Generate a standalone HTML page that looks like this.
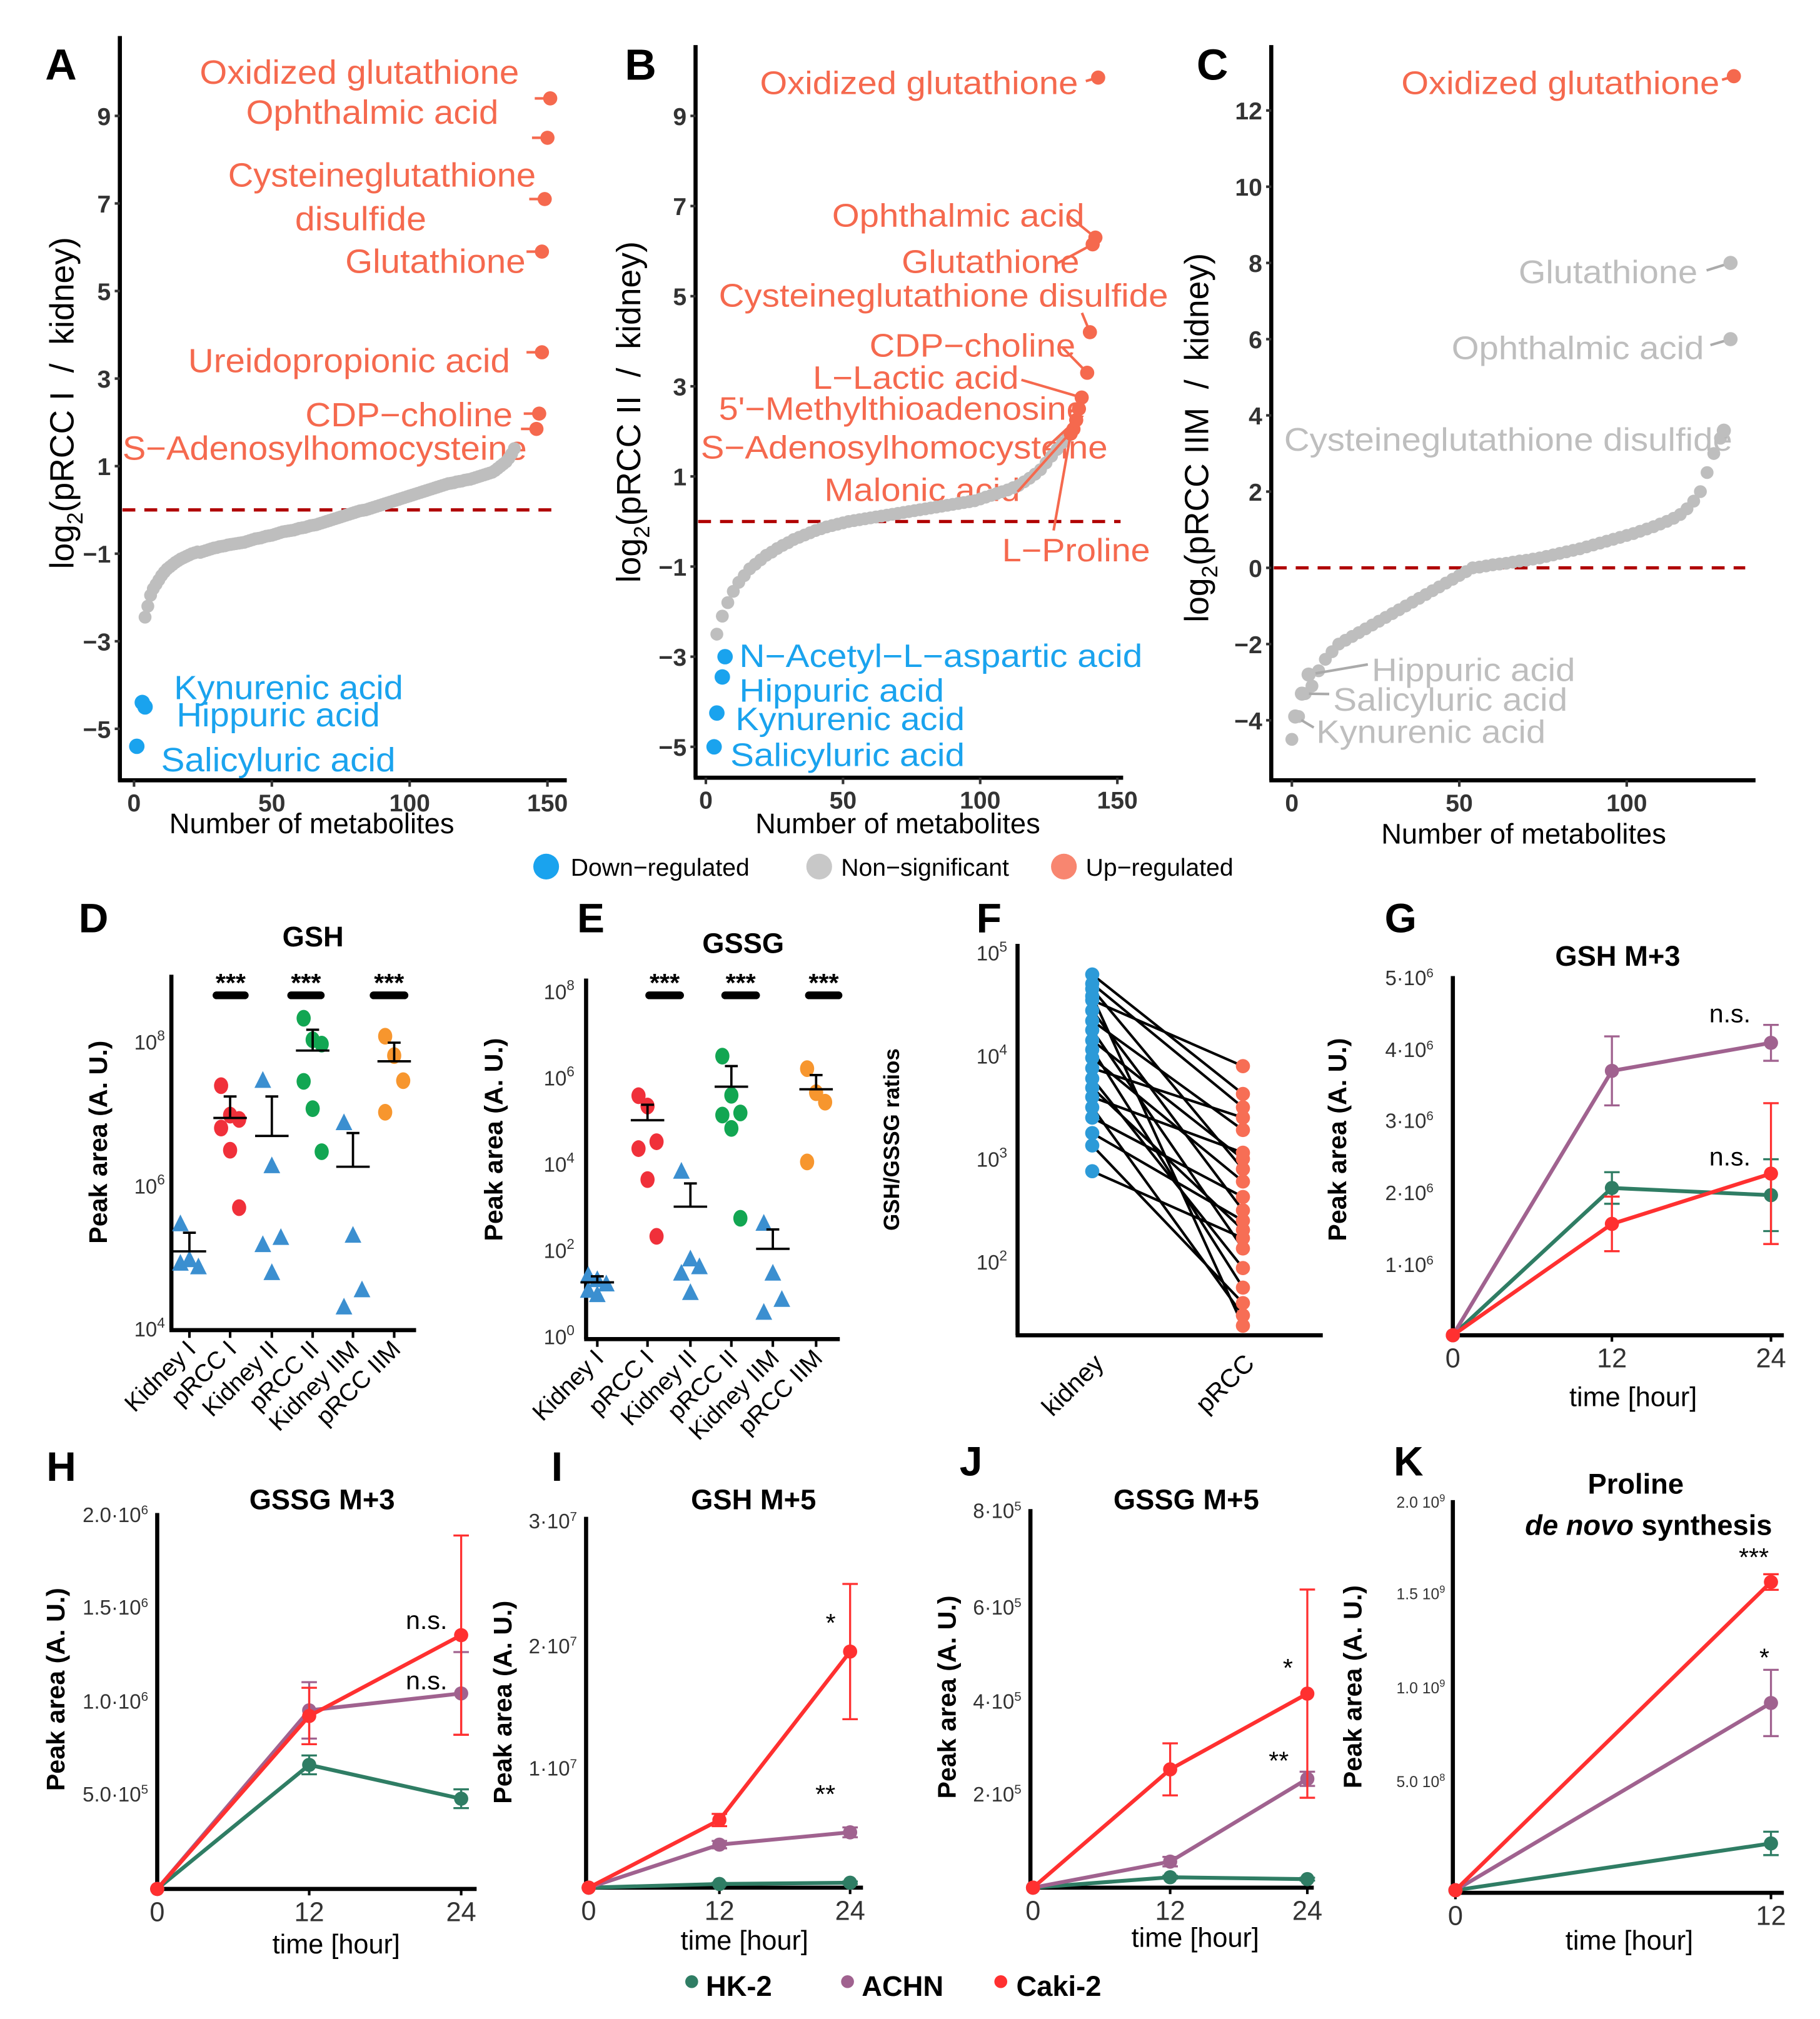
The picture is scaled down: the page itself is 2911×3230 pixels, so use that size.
<!DOCTYPE html>
<html><head><meta charset="utf-8">
<style>
html,body{margin:0;padding:0;background:#fff;}
svg{display:block;}
text{font-family:"Liberation Sans",Arial,sans-serif;}
.nar{font-family:"Liberation Sans Narrow","Liberation Sans",sans-serif;}
.b{font-weight:bold;}
.up{fill:#F5694E;}
.dn{fill:#1AA3EE;}
.gr{fill:#BEBEBE;}
.tk{fill:#333;font-size:16px;}
</style></head>
<body>
<svg id="fig" xmlns="http://www.w3.org/2000/svg" width="2911" height="3230" viewBox="0 0 1413 1568">
<rect x="0" y="0" width="1413" height="1568" fill="#fff"/>
<g id="static" fill="#000">
<text x="35" y="62" font-size="34" class="b">A</text>
<text x="485" y="62" font-size="34" class="b">B</text>
<text x="929" y="62" font-size="34" class="b">C</text>
<text x="61" y="724" font-size="32" class="b">D</text>
<text x="448" y="724" font-size="32" class="b">E</text>
<text x="758" y="724" font-size="32" class="b">F</text>
<text x="1075" y="724" font-size="32" class="b">G</text>
<text x="36" y="1150" font-size="32" class="b">H</text>
<text x="428" y="1150" font-size="32" class="b">I</text>
<text x="745" y="1146" font-size="32" class="b">J</text>
<text x="1082" y="1146" font-size="32" class="b">K</text>

<text transform="translate(57,313) rotate(-90)" text-anchor="middle" font-size="26">log<tspan font-size="17" dy="7">2</tspan><tspan dy="-7">(pRCC I &#160;/ &#160;kidney)</tspan></text>
<text x="242" y="647" text-anchor="middle" font-size="22" class="nar">Number of metabolites</text>
<g class="nar up" font-size="26">
<text x="155" y="65" textLength="248" lengthAdjust="spacingAndGlyphs">Oxidized glutathione</text>
<text x="191" y="96" textLength="196" lengthAdjust="spacingAndGlyphs">Ophthalmic acid</text>
<text x="177" y="145" textLength="239" lengthAdjust="spacingAndGlyphs">Cysteineglutathione</text>
<text x="229" y="179" textLength="102" lengthAdjust="spacingAndGlyphs">disulfide</text>
<text x="268" y="212" textLength="140" lengthAdjust="spacingAndGlyphs">Glutathione</text>
<text x="146" y="289" textLength="250" lengthAdjust="spacingAndGlyphs">Ureidopropionic acid</text>
<text x="237" y="331" textLength="161" lengthAdjust="spacingAndGlyphs">CDP−choline</text>
<text x="95" y="357" textLength="314" lengthAdjust="spacingAndGlyphs">S−Adenosylhomocysteine</text>
</g>
<g class="dn" font-size="26">
<text x="135" y="543" textLength="178" lengthAdjust="spacingAndGlyphs">Kynurenic acid</text>
<text x="137" y="564" textLength="158" lengthAdjust="spacingAndGlyphs">Hippuric acid</text>
<text x="125" y="599" textLength="182" lengthAdjust="spacingAndGlyphs">Salicyluric acid</text>
</g>

<text transform="translate(497,320) rotate(-90)" text-anchor="middle" font-size="26">log<tspan font-size="17" dy="7">2</tspan><tspan dy="-7">(pRCC II &#160;/ &#160;kidney)</tspan></text>
<text x="697" y="647" text-anchor="middle" font-size="22" class="nar">Number of metabolites</text>
<g class="up" font-size="25">
<text x="590" y="73" textLength="247" lengthAdjust="spacingAndGlyphs">Oxidized glutathione</text>
<text x="646" y="176" textLength="196" lengthAdjust="spacingAndGlyphs">Ophthalmic acid</text>
<text x="700" y="212" textLength="138" lengthAdjust="spacingAndGlyphs">Glutathione</text>
<text x="558" y="238" textLength="349" lengthAdjust="spacingAndGlyphs">Cysteineglutathione disulfide</text>
<text x="675" y="277" textLength="160" lengthAdjust="spacingAndGlyphs">CDP−choline</text>
<text x="631" y="302" textLength="160" lengthAdjust="spacingAndGlyphs">L−Lactic acid</text>
<text x="558" y="326" textLength="285" lengthAdjust="spacingAndGlyphs">5'−Methylthioadenosine</text>
<text x="544" y="356" textLength="316" lengthAdjust="spacingAndGlyphs">S−Adenosylhomocysteine</text>
<text x="640" y="389" textLength="152" lengthAdjust="spacingAndGlyphs">Malonic acid</text>
<text x="778" y="436" textLength="115" lengthAdjust="spacingAndGlyphs">L−Proline</text>
</g>
<g class="dn" font-size="25">
<text x="574" y="518" textLength="313" lengthAdjust="spacingAndGlyphs">N−Acetyl−L−aspartic acid</text>
<text x="574" y="545" textLength="159" lengthAdjust="spacingAndGlyphs">Hippuric acid</text>
<text x="571" y="567" textLength="178" lengthAdjust="spacingAndGlyphs">Kynurenic acid</text>
<text x="567" y="595" textLength="182" lengthAdjust="spacingAndGlyphs">Salicyluric acid</text>
</g>

<text transform="translate(938,340) rotate(-90)" text-anchor="middle" font-size="26">log<tspan font-size="17" dy="7">2</tspan><tspan dy="-7">(pRCC IIM &#160;/ &#160;kidney)</tspan></text>
<text x="1183" y="655" text-anchor="middle" font-size="22" class="nar">Number of metabolites</text>
<text x="1088" y="73" font-size="25" class="up" textLength="247" lengthAdjust="spacingAndGlyphs">Oxidized glutathione</text>
<g class="gr" font-size="25">
<text x="1179" y="220" textLength="139" lengthAdjust="spacingAndGlyphs">Glutathione</text>
<text x="1127" y="279" textLength="196" lengthAdjust="spacingAndGlyphs">Ophthalmic acid</text>
<text x="997" y="350" textLength="348" lengthAdjust="spacingAndGlyphs">Cysteineglutathione disulfide</text>
<text x="1065" y="529" class="nar" textLength="158" lengthAdjust="spacingAndGlyphs">Hippuric acid</text>
<text x="1035" y="552" class="nar" textLength="182" lengthAdjust="spacingAndGlyphs">Salicyluric acid</text>
<text x="1022" y="577" class="nar" textLength="178" lengthAdjust="spacingAndGlyphs">Kynurenic acid</text>
</g>

<g font-size="19">
<circle cx="424" cy="673" r="10" fill="#1AA3EE"/>
<text x="443" y="680">Down−regulated</text>
<circle cx="636" cy="673" r="10" fill="#C8C8C8"/>
<text x="653" y="680">Non−significant</text>
<circle cx="826" cy="673" r="10" fill="#F88670"/>
<text x="843" y="680">Up−regulated</text>
</g>

<text x="243" y="735" text-anchor="middle" font-size="22" class="b">GSH</text>
<text transform="translate(83,887) rotate(-90)" text-anchor="middle" font-size="20" class="b">Peak area (A. U.)</text>
<g class="tk" text-anchor="end">
<text x="128" y="815">10<tspan font-size="11" dy="-7">8</tspan></text>
<text x="128" y="927">10<tspan font-size="11" dy="-7">6</tspan></text>
<text x="128" y="1038">10<tspan font-size="11" dy="-7">4</tspan></text>
</g>
<text x="577" y="740" text-anchor="middle" font-size="22" class="b">GSSG</text>
<text transform="translate(390,885) rotate(-90)" text-anchor="middle" font-size="20" class="b">Peak area (A. U.)</text>
<g class="tk" text-anchor="end">
<text x="446" y="776">10<tspan font-size="11" dy="-7">8</tspan></text>
<text x="446" y="843">10<tspan font-size="11" dy="-7">6</tspan></text>
<text x="446" y="910">10<tspan font-size="11" dy="-7">4</tspan></text>
<text x="446" y="977">10<tspan font-size="11" dy="-7">2</tspan></text>
<text x="446" y="1044">10<tspan font-size="11" dy="-7">0</tspan></text>
</g>
<text transform="translate(698,885) rotate(-90)" text-anchor="middle" font-size="17" class="b">GSH/GSSG ratios</text>
<g class="tk" text-anchor="end">
<text x="782" y="746">10<tspan font-size="11" dy="-7">5</tspan></text>
<text x="782" y="826">10<tspan font-size="11" dy="-7">4</tspan></text>
<text x="782" y="906">10<tspan font-size="11" dy="-7">3</tspan></text>
<text x="782" y="986">10<tspan font-size="11" dy="-7">2</tspan></text>
</g>
<text transform="translate(858,1060) rotate(-45)" text-anchor="end" font-size="20">kidney</text>
<text transform="translate(975,1060) rotate(-45)" text-anchor="end" font-size="20">pRCC</text>

<text x="1256" y="750" text-anchor="middle" font-size="22" class="b">GSH M+3</text>
<text x="250" y="1172" text-anchor="middle" font-size="22" class="b">GSSG M+3</text>
<text x="585" y="1172" text-anchor="middle" font-size="22" class="b">GSH M+5</text>
<text x="921" y="1172" text-anchor="middle" font-size="22" class="b">GSSG M+5</text>
<text x="1270" y="1160" text-anchor="middle" font-size="22" class="b">Proline</text>
<text x="1280" y="1192" text-anchor="middle" font-size="22" class="b"><tspan font-style="italic">de novo</tspan> synthesis</text>

<g font-size="20" class="b" text-anchor="middle">
<text transform="translate(1045,885) rotate(-90)">Peak area (A. U.)</text>
<text transform="translate(50,1312) rotate(-90)">Peak area (A. U.)</text>
<text transform="translate(397,1322) rotate(-90)">Peak area (A. U.)</text>
<text transform="translate(742,1318) rotate(-90)">Peak area (A. U.)</text>
<text transform="translate(1057,1310) rotate(-90)">Peak area (A. U.)</text>
</g>
<g font-size="21" text-anchor="middle">
<text x="1268" y="1092">time [hour]</text>
<text x="261" y="1517">time [hour]</text>
<text x="578" y="1514">time [hour]</text>
<text x="928" y="1512">time [hour]</text>
<text x="1265" y="1514">time [hour]</text>
</g>
<g class="tk" font-size="15" text-anchor="end">
<text x="1113" y="765">5·10<tspan font-size="10" dy="-6">6</tspan></text>
<text x="1113" y="821">4·10<tspan font-size="10" dy="-6">6</tspan></text>
<text x="1113" y="876">3·10<tspan font-size="10" dy="-6">6</tspan></text>
<text x="1113" y="932">2·10<tspan font-size="10" dy="-6">6</tspan></text>
<text x="1113" y="988">1·10<tspan font-size="10" dy="-6">6</tspan></text>
<text x="115" y="1182">2.0·10<tspan font-size="10" dy="-6">6</tspan></text>
<text x="115" y="1254">1.5·10<tspan font-size="10" dy="-6">6</tspan></text>
<text x="115" y="1327">1.0·10<tspan font-size="10" dy="-6">6</tspan></text>
<text x="115" y="1399">5.0·10<tspan font-size="10" dy="-6">5</tspan></text>
<text x="448" y="1187">3·10<tspan font-size="10" dy="-6">7</tspan></text>
<text x="448" y="1284">2·10<tspan font-size="10" dy="-6">7</tspan></text>
<text x="448" y="1379">1·10<tspan font-size="10" dy="-6">7</tspan></text>
<text x="793" y="1179">8·10<tspan font-size="10" dy="-6">5</tspan></text>
<text x="793" y="1254">6·10<tspan font-size="10" dy="-6">5</tspan></text>
<text x="793" y="1327">4·10<tspan font-size="10" dy="-6">5</tspan></text>
<text x="793" y="1399">2·10<tspan font-size="10" dy="-6">5</tspan></text>
<text x="1122" y="1171" font-size="12">2.0 10<tspan font-size="8" dy="-5">9</tspan></text>
<text x="1122" y="1242" font-size="12">1.5 10<tspan font-size="8" dy="-5">9</tspan></text>
<text x="1122" y="1315" font-size="12">1.0 10<tspan font-size="8" dy="-5">9</tspan></text>
<text x="1122" y="1388" font-size="12">5.0 10<tspan font-size="8" dy="-5">8</tspan></text>
</g>
<g font-size="20">
<text x="1327" y="794">n.s.</text>
<text x="1327" y="905">n.s.</text>
<text x="315" y="1265">n.s.</text>
<text x="315" y="1312">n.s.</text>
<text x="641" y="1267">*</text>
<text x="633" y="1400">**</text>
<text x="996" y="1302">*</text>
<text x="985" y="1374">**</text>
<text x="1350" y="1216">***</text>
<text x="1366" y="1294">*</text>
</g>
<g class="b" font-size="22">
<circle cx="537" cy="1539" r="5" fill="#2F7D64"/>
<text x="548" y="1550">HK-2</text>
<circle cx="658" cy="1539" r="5" fill="#A0628F"/>
<text x="669" y="1550">ACHN</text>
<circle cx="777" cy="1539" r="5" fill="#FF3030"/>
<text x="789" y="1550">Caki-2</text>
</g>
</g>
<g id="marks"></g>
</svg>
<script>
const aGreyStart = 4;
const aGrey = [-2.45,-2.2,-1.95,-1.8,-1.7,-1.6,-1.5,-1.42,-1.35,-1.3,
-1.25,-1.2,-1.16,-1.12,-1.09,-1.06,-1.03,-1.0,-0.98,-0.96,
-0.97,-0.95,-0.93,-0.91,-0.89,-0.87,-0.86,-0.84,-0.83,-0.82,
-0.8,-0.79,-0.78,-0.77,-0.76,-0.75,-0.74,-0.72,-0.7,-0.68,
-0.66,-0.65,-0.64,-0.62,-0.6,-0.59,-0.58,-0.56,-0.54,-0.52,
-0.5,-0.49,-0.48,-0.47,-0.46,-0.44,-0.42,-0.41,-0.4,-0.38,
-0.36,-0.35,-0.34,-0.32,-0.3,-0.28,-0.26,-0.24,-0.22,-0.2,
-0.18,-0.16,-0.14,-0.12,-0.1,-0.08,-0.06,-0.04,-0.02,-0.01,
0.0,0.02,0.04,0.06,0.08,0.1,0.12,0.14,0.16,0.18,
0.2,0.22,0.24,0.26,0.28,0.3,0.32,0.34,0.36,0.38,
0.4,0.42,0.44,0.46,0.48,0.5,0.52,0.54,0.56,0.58,
0.6,0.61,0.62,0.64,0.65,0.66,0.68,0.69,0.7,0.72,
0.74,0.76,0.78,0.8,0.82,0.84,0.86,0.9,0.95,1.0,
1.05,1.1,1.18,1.28,1.4];
const aUpIdx = [151,150,149,148,148,147,146];
const aUpVal = [9.4,8.5,7.1,5.9,3.6,2.2,1.85];
const aDownIdx = [3,4,1];
const aDownVal = [-4.4,-4.5,-5.4];
const bGreyStart = 4;
const bGrey = [-2.5,-2.1,-1.8,-1.55,-1.35,-1.2,-1.05,-0.95,-0.85,-0.75,
-0.68,-0.6,-0.53,-0.47,-0.4,-0.35,-0.3,-0.25,-0.2,-0.16,
-0.12,-0.09,-0.06,-0.03,0.0,0.02,0.04,0.06,0.08,0.1,
0.12,0.14,0.16,0.18,0.2,0.22,0.24,0.26,0.28,0.3,
0.32,0.34,0.36,0.38,0.4,0.42,0.44,0.46,0.5,0.54,
0.58,0.62,0.66,0.7,0.75,0.8,0.88,0.96,1.05,1.15,
1.3,1.45,1.6,1.75,1.9];
const bUpIdx = [143,142,141,140,139,137,136,135,134,133];
const bUpVal = [9.85,6.3,6.15,4.2,3.3,2.75,2.5,2.25,2.05,1.95];
const bDownIdx = [7,6,4,3];
const bDownVal = [-3.0,-3.45,-4.25,-5.0];
const cGreyStart = 0;
const cGrey = [-4.5,-3.9,-3.3,-3.1,-2.7,-2.4,-2.2,-2.0,-1.9,-1.8,
-1.7,-1.6,-1.5,-1.4,-1.3,-1.2,-1.1,-1.0,-0.9,-0.8,
-0.7,-0.6,-0.5,-0.4,-0.3,-0.2,-0.1,0.0,0.02,0.05,
0.08,0.1,0.12,0.15,0.18,0.2,0.23,0.26,0.3,0.34,
0.38,0.42,0.46,0.5,0.55,0.6,0.65,0.7,0.75,0.8,
0.85,0.9,0.96,1.02,1.08,1.15,1.22,1.3,1.4,1.55,
1.75,2.0,2.5,3.0,3.4];
const cUpIdx = [132];
const cUpVal = [12.9];
const cNamedIdx = [131,131,129,5,3,1];
const cNamedVal = [8.0,6.0,3.6,-2.8,-3.3,-3.9];
const dGroups = ['Kidney I','pRCC I','Kidney II','pRCC II','Kidney IIM','pRCC IIM'];
const dValues = [[5.45,4.95,4.85,4.9,4.95],[7.39,6.98,6.92,6.8,6.49,5.69],[7.45,6.26,5.26,5.16,4.77],[8.33,8.03,7.97,7.45,7.07,6.47],[6.86,5.29,4.53,4.29],[8.08,7.81,7.46,7.02]];
const dMean = [5.08,6.94,6.69,7.88,6.26,7.73];
const dErrTop = [5.34,7.24,7.24,8.17,6.73,7.99];
const eGroups = ['Kidney I','pRCC I','Kidney II','pRCC II','Kidney IIM','pRCC IIM'];
const eValues = [[1.4,1.3,1.2,1.05,0.95],[5.6,5.36,4.53,4.37,3.65,2.33],[3.82,1.78,1.6,1.45,1.0],[6.52,5.61,5.2,5.15,4.84,2.75],[2.61,1.45,0.84,0.54],[6.23,5.67,5.45,4.06]];
const eMean = [1.26,5.03,3.02,5.81,2.04,5.75];
const eErrTop = [1.4,5.39,3.56,6.29,2.49,6.08];
const fKidney = [4.79,4.65,4.54,4.44,4.34,4.25,4.15,4.06,3.98,3.88,3.78,3.69,3.6,3.5,3.4,3.25,3.13,2.88,4.7,4.58];
const fPRCC = [3.63,2.9,3.9,2.5,3.28,2.13,3.0,1.75,2.78,3.4,1.94,2.31,3.06,1.48,2.63,2.4,1.6,2.23,3.5,1.38];
const timeGHIJ = [0,12,24];
const timeK = [0,12];
const gHK2 = [0,2.05,1.95], gHK2Err = [0,0.22,0.5];
const gACHN = [0,3.68,4.07], gACHNErr = [0,0.48,0.25];
const gCaki = [0,1.55,2.25], gCakiErr = [0,0.38,0.98];
const hHK2 = [0,0.66,0.48], hHK2Err = [0,0.05,0.05];
const hACHN = [0,0.95,1.04], hACHNErr = [0,0.15,0.22];
const hCaki = [0,0.92,1.35], hCakiErr = [0,0.15,0.53];
const iHK2 = [0,0.03,0.04], iHK2Err = [0,0.01,0.01];
const iACHN = [0,0.35,0.45], iACHNErr = [0,0.03,0.04];
const iCaki = [0,0.55,1.92], iCakiErr = [0,0.05,0.55];
const jHK2 = [0,0.22,0.18], jHK2Err = [0,0.03,0.03];
const jACHN = [0,0.55,2.3], jACHNErr = [0,0.1,0.15];
const jCaki = [0,2.5,4.1], jCakiErr = [0,0.55,2.2];
const kHK2 = [0,0.24], kHK2Err = [0,0.06];
const kACHN = [0,0.96], kACHNErr = [0,0.17];
const kCaki = [0,1.58], kCakiErr = [0,0.04];
const xTicksA = [0,50,100,150], yTicksA = [9,7,5,3,1,-1,-3,-5];
const xTicksB = [0,50,100,150], yTicksB = [9,7,5,3,1,-1,-3,-5];
const xTicksC = [0,50,100], yTicksC = [12,10,8,6,4,2,0,-2,-4];

const NS = 'http://www.w3.org/2000/svg';
const root = document.getElementById('marks');
function el(tag, attrs, parent){ const e=document.createElementNS(NS,tag); for(const k in attrs) e.setAttribute(k,attrs[k]); (parent||root).appendChild(e); return e; }
const GREY='#BEBEBE', UP='#F5694E', DOWN='#1AA3EE', HK='#2F7D64', AC='#A0628F', CK='#FF3030';

function axisLines(x0,yTop,yBot,xRight,name){
  const a=el('line',{x1:x0,y1:yTop,x2:x0,y2:yBot,stroke:'#000','stroke-width':3.2});
  
  
  const b=el('line',{x1:x0-1.5,y1:yBot,x2:xRight,y2:yBot,stroke:'#000','stroke-width':3.2});
  
  
}
function tickText(x,y,s,anchor,size,bold){
  const t=el('text',{x:x,y:y,'text-anchor':anchor,'font-size':size,fill:'#333','font-weight':bold?'bold':'normal'});
  
  
  t.textContent=s;
}
function volcano(name, grey, gStart, step, xs, ys, axX, yTop, yBot, xRight, xTicks, yTicks, dashY, dashX2){
  axisLines(axX,yTop,yBot,xRight,name);
  xTicks.forEach(v=>{ const l=el('line',{x1:xs(v),y1:yBot,x2:xs(v),y2:yBot+5,stroke:'#333','stroke-width':2});   tickText(xs(v),yBot+24,String(v),'middle',19,true); });
  yTicks.forEach(v=>{ const l=el('line',{x1:axX-4,y1:ys(v),x2:axX,y2:ys(v),stroke:'#333','stroke-width':2});   tickText(axX-7,ys(v)+7,String(v).replace('-','−'),'end',19,true); });
  const d=el('line',{x1:axX+2,y1:ys(0),x2:dashX2,y2:ys(0),stroke:'#B00000','stroke-width':2.5,'stroke-dasharray':'10,7'});
  
  
  grey.forEach((v,i)=>{ const c=el('circle',{cx:xs(gStart+i*step),cy:ys(v),r:5,fill:GREY});   });
}
function pt(x,y,color,name,r){ const c=el('circle',{cx:x,cy:y,r:r||5.5,fill:color});   return c; }
function leader(x1,y1,x2,y2,color){ const l=el('line',{x1:x1,y1:y1,x2:x2,y2:y2,stroke:color,'stroke-width':2});   }

const xA=v=>104+v*2.14, yA=v=>396-v*34;
volcano('panel-a', aGrey, aGreyStart, 1, xA, yA, 93, 28, 606, 440, xTicksA, yTicksA, yA(0), 435);
aUpIdx.forEach((v,i)=>{ leader(xA(v)-12,yA(aUpVal[i]),xA(v),yA(aUpVal[i]),UP); pt(xA(v),yA(aUpVal[i]),UP,'panel-a-up-point'); });
aDownIdx.forEach((v,i)=>{ pt(xA(v),yA(aDownVal[i]),DOWN,'panel-a-down-point',6); });
const xB=v=>548+v*2.13, yB=v=>405-v*35;
volcano('panel-b', bGrey, bGreyStart, 2, xB, yB, 540, 35, 604, 872, xTicksB, yTicksB, yB(0), 870);
const bLead=[[843,63],[830,168],[820,205],[840,243],[825,270],[793,295],[830,320],[810,350],[790,382],[818,412]];
bUpIdx.forEach((v,i)=>{ leader(bLead[i][0],bLead[i][1],xB(v),yB(bUpVal[i]),UP); pt(xB(v),yB(bUpVal[i]),UP,'panel-b-up-point'); });
bDownIdx.forEach((v,i)=>{ pt(xB(v),yB(bDownVal[i]),DOWN,'panel-b-down-point',6); });
const xC=v=>1003+v*2.6, yC=v=>441-v*29.6;
volcano('panel-c', cGrey, cGreyStart, 2, xC, yC, 987, 35, 606, 1363, xTicksC, yTicksC, yC(0), 1355);
const cLead=[[1325,210],[1328,268],[1340,340],[1062,516],[1032,539],[1020,565]];
cNamedIdx.forEach((v,i)=>{ leader(cLead[i][0],cLead[i][1],xC(v),yC(cNamedVal[i]),'#AAAAAA'); pt(xC(v),yC(cNamedVal[i]),GREY,'panel-c-named-point'); });
leader(1337,62,xC(cUpIdx[0]),yC(cUpVal[0]),UP);
pt(xC(cUpIdx[0]),yC(cUpVal[0]),UP,'panel-c-up-point');

const groupColors=['#3B8FD0','#F0303A','#3B8FD0','#12A652','#3B8FD0','#F7962E'];
function scatterPanel(name, groups, vals, means, errs, cx, ys, axX, yTop, yBot, xRight, sigY, sigRanges){
  axisLines(axX,yTop,yBot,xRight,name);
  groups.forEach((g,gi)=>{
    const tl=el('line',{x1:cx[gi],y1:yBot,x2:cx[gi],y2:yBot+6,stroke:'#000','stroke-width':2});  
    const t=el('text',{transform:'translate('+(cx[gi]+6)+','+(yBot+16)+') rotate(-45)','text-anchor':'end','font-size':19});
    
    
    t.textContent=g;
    vals[gi].forEach((v,i)=>{
      const off=((i%3)-1)*7;
      const x=cx[gi]+off, y=ys(v);
      if(gi%2===0){ const p=el('polygon',{points:(x)+','+(y-8)+' '+(x-6.5)+','+(y+5)+' '+(x+6.5)+','+(y+5),fill:groupColors[gi]});   }
      else { const c=el('ellipse',{cx:x,cy:y,rx:5.5,ry:6.5,fill:groupColors[gi]});   }
    });
    const m=el('path',{d:'M'+(cx[gi]-13)+','+ys(means[gi])+'H'+(cx[gi]+13)+'M'+cx[gi]+','+ys(means[gi])+'V'+ys(errs[gi])+'M'+(cx[gi]-5)+','+ys(errs[gi])+'H'+(cx[gi]+5),stroke:'#000','stroke-width':1.8,fill:'none'});
    
    
  });
  sigRanges.forEach(r=>{
    const b=el('line',{x1:r[0],y1:sigY,x2:r[1],y2:sigY,stroke:'#000','stroke-width':6,'stroke-linecap':'round'});
    
    
    const s=el('text',{x:(r[0]+r[1])/2,y:sigY-3,'text-anchor':'middle','font-size':20,'font-weight':'bold'});
    
    
    s.textContent='***';
  });
}
const yD=v=>1032-(v-4)*55.7;
scatterPanel('panel-d', dGroups, dValues, dMean, dErrTop, [147,178.6,211,242.7,274,306], yD, 133, 757, 1033, 323, 773, [[168,190],[226,249],[290,314]]);
const yE=v=>1038-v*33.4;
scatterPanel('panel-e', eGroups, eValues, eMean, eErrTop, [463.7,502.7,536,567.8,600,633.6], yE, 455, 760, 1040, 652, 773, [[504,528],[563,587],[628,651]]);

const yF=v=>740+(5-v)*80, xFk=848, xFp=965;
axisLines(790,733,1037,1027,'panel-f');
fKidney.forEach((v,i)=>{ leader(xFk,yF(v),xFp,yF(fPRCC[i]),'#000'); });
fKidney.forEach((v,i)=>{ pt(xFk,yF(v),'#2C9AD8','panel-f-kidney-point',5.5); });
fPRCC.forEach((v,i)=>{ pt(xFp,yF(v),'#F76E55','panel-f-prcc-point',5.5); });

function timePanel(name, times, xs, ys, axX, yTop, yBot, xRight, series){
  axisLines(axX,yTop,yBot,xRight,name);
  times.forEach(t=>{ const l=el('line',{x1:xs(t),y1:yBot,x2:xs(t),y2:yBot+5,stroke:'#000','stroke-width':2});   tickText(xs(t),yBot+25,String(t),'middle',21,false); });
  series.forEach(s=>{
    const d=s.v.map((v,i)=>(i?'L':'M')+xs(times[i])+','+ys(v)).join('');
    const p=el('path',{d:d,stroke:s.c,'stroke-width':3,fill:'none'});
    
    
    s.v.forEach((v,i)=>{
      if(s.e[i]>0){ const x=xs(times[i]); const e=el('path',{d:'M'+x+','+ys(v-s.e[i])+'V'+ys(v+s.e[i])+'M'+(x-6)+','+ys(v-s.e[i])+'H'+(x+6)+'M'+(x-6)+','+ys(v+s.e[i])+'H'+(x+6),stroke:s.c,'stroke-width':1.6,fill:'none'});   }
      pt(xs(times[i]),ys(v),s.c,name+'-point-'+s.n,5.5);
    });
  });
}
timePanel('panel-g', timeGHIJ, t=>1128+t*247/24, v=>1037-v*55.8, 1128, 758, 1037, 1385,
  [{n:'hk2',v:gHK2,e:gHK2Err,c:HK},{n:'achn',v:gACHN,e:gACHNErr,c:AC},{n:'caki2',v:gCaki,e:gCakiErr,c:CK}]);
timePanel('panel-h', timeGHIJ, t=>122+t*236/24, v=>1467-v*146, 122, 1175, 1467, 370,
  [{n:'hk2',v:hHK2,e:hHK2Err,c:HK},{n:'achn',v:hACHN,e:hACHNErr,c:AC},{n:'caki2',v:hCaki,e:hCakiErr,c:CK}]);
timePanel('panel-i', timeGHIJ, t=>457+t*203/24, v=>1466-v*95.5, 455, 1178, 1466, 670,
  [{n:'hk2',v:iHK2,e:iHK2Err,c:HK},{n:'achn',v:iACHN,e:iACHNErr,c:AC},{n:'caki2',v:iCaki,e:iCakiErr,c:CK}]);
timePanel('panel-j', timeGHIJ, t=>802+t*213/24, v=>1466-v*36.75, 800, 1172, 1466, 1020,
  [{n:'hk2',v:jHK2,e:jHK2Err,c:HK},{n:'achn',v:jACHN,e:jACHNErr,c:AC},{n:'caki2',v:jCaki,e:jCakiErr,c:CK}]);
timePanel('panel-k', timeK, t=>1130+t*245/12, v=>1468-v*151.5, 1128, 1165, 1470, 1385,
  [{n:'hk2',v:kHK2,e:kHK2Err,c:HK},{n:'achn',v:kACHN,e:kACHNErr,c:AC},{n:'caki2',v:kCaki,e:kCakiErr,c:CK}]);
</script>
</body></html>
